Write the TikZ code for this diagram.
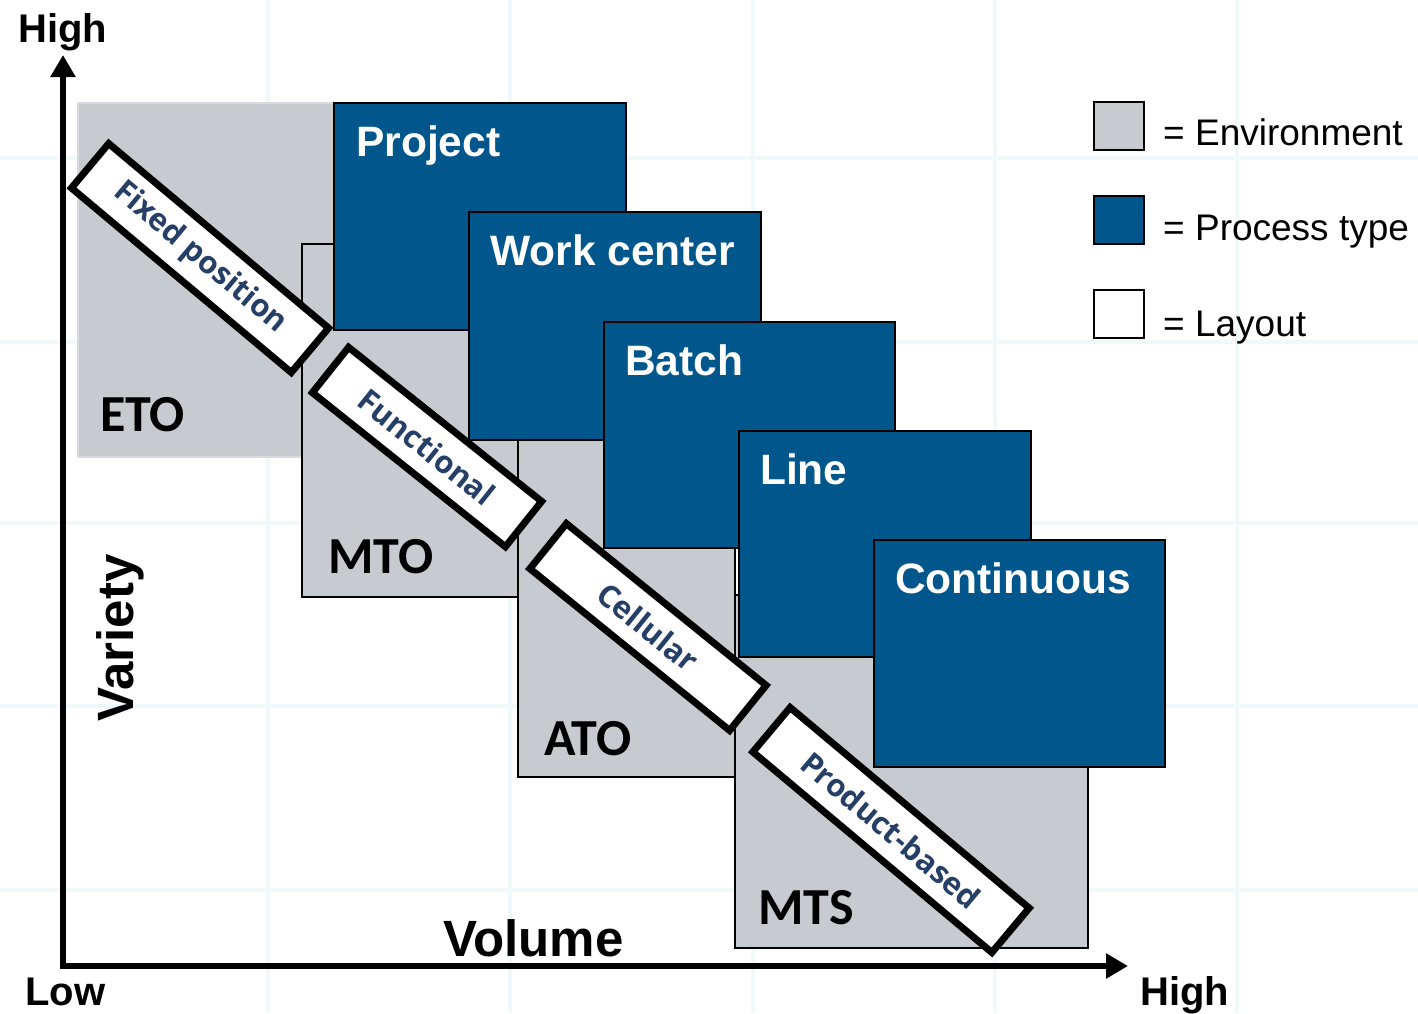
\documentclass[tikz,border=0pt]{standalone}
\usepackage{fontspec}
\setmainfont{Liberation Sans}
\newfontfamily\carl{Carlito}
\newfontfamily\opensans{Open Sans}
\usetikzlibrary{arrows.meta}
\definecolor{envgray}{RGB}{199,203,208}
\definecolor{envedge}{RGB}{216,219,223}
\definecolor{procblue}{RGB}{1,86,140}
\definecolor{laytext}{RGB}{38,63,102}
\definecolor{gridc}{RGB}{241,248,250}
\begin{document}
\begin{tikzpicture}[x=1pt,y=-1pt,
  envbox/.style={draw=black, line width=1.3pt, fill=envgray},
  procbox/.style={draw=black, line width=2pt, fill=procblue},
  laybox/.style={draw=black, line width=7pt, fill=white, rectangle, minimum height=58pt, inner sep=0pt,
     font=\opensans\bfseries\fontsize{31}{36}\selectfont, text=laytext},
  proclab/.style={anchor=base west, inner sep=0pt, text=white, font=\bfseries\fontsize{42.5}{48}\selectfont},
  envlab/.style={anchor=base west, inner sep=0pt, font=\carl\bfseries\fontsize{52}{56}\selectfont},
  leglab/.style={anchor=base west, inner sep=0pt, font=\fontsize{37}{42}\selectfont},
  axlab/.style={anchor=base west, inner sep=0pt, font=\bfseries\fontsize{40}{44}\selectfont},
  gridline/.style={draw=gridc, line width=4pt}
]
\useasboundingbox (0,0) rectangle (1418,1013);
\fill[white] (0,0) rectangle (1418,1013);
% faint background grid
\foreach \gx in {268,510,753,995,1237} \draw[gridline] (\gx,0) -- (\gx,1013);
\foreach \gy in {158,342,523,706,890} \draw[gridline] (0,\gy) -- (1418,\gy);

% environment boxes
\draw[draw=envedge, line width=2pt, fill=envgray] (78,103) rectangle (340,457);
\draw[envbox] (302,244) rectangle (518,597);
\draw[envbox] (518,422) rectangle (735,777);
\draw[envbox] (735,595) rectangle (1088,948);

% process boxes
\draw[procbox] (334,103) rectangle (626,330);
\draw[procbox] (469,212) rectangle (761,440);
\draw[procbox] (604,322) rectangle (895,548);
\draw[procbox] (739,431) rectangle (1031,657);
\draw[procbox] (874,540) rectangle (1165,767);

\node[proclab] (project) at (356,156) {Project};
\node[proclab] (workcenter) at (490,265) {Work center};
\node[proclab] (batch) at (625,375) {Batch};
\node[proclab] (line) at (760,484) {Line};
\node[proclab] (continuous) at (895,593) {Continuous};

\node[envlab] (eto) at (100,431) {ETO};
\node[envlab] (mto) at (328,573) {MTO};
\node[envlab] (ato) at (544,755) {ATO};
\node[envlab] (mts) at (758,924) {MTS};

% layout boxes
\node[laybox, minimum width=287pt, rotate=-40] (fixed) at (200,258) {Fixed position};
\node[laybox, minimum width=247pt, rotate=-38.6] (functional) at (427,447) {Functional};
\node[laybox, minimum width=257pt, rotate=-39] (cellular) at (648,627) {Cellular};
\node[laybox, minimum width=312pt, rotate=-40] (product) at (891,830) {Product-based};

% axes
\coordinate (ytop) at (63,55);
\coordinate (origin) at (63,966);
\coordinate (xend) at (1128,966);
\draw[line width=6pt, line join=miter, {Triangle[length=22pt,width=24pt]}-{Triangle[length=22pt,width=24pt]}] (ytop) -- (origin) -- (xend);

\node[axlab] (yhigh) at (18,42) {High};
\node[axlab] (xlow) at (25,1005) {Low};
\node[axlab] (xhigh) at (1140,1005) {High};
\node[anchor=base west, inner sep=0pt, font=\bfseries\fontsize{51}{56}\selectfont] (volume) at (443,956) {Volume};
\node[anchor=base west, inner sep=0pt, rotate=90, font=\bfseries\fontsize{51}{56}\selectfont] (variety) at (133,722) {Variety};

% legend
\draw[envbox, line width=2pt] (1094,102) rectangle (1144,150);
\draw[procbox] (1094,196) rectangle (1144,244);
\draw[draw=black, line width=2pt, fill=white] (1094,290) rectangle (1144,338);
\node[leglab] (legenv) at (1163,145) {= Environment};
\node[leglab] (legproc) at (1163,240) {= Process type};
\node[leglab] (leglay) at (1163,336) {= Layout};
\end{tikzpicture}
\end{document}
